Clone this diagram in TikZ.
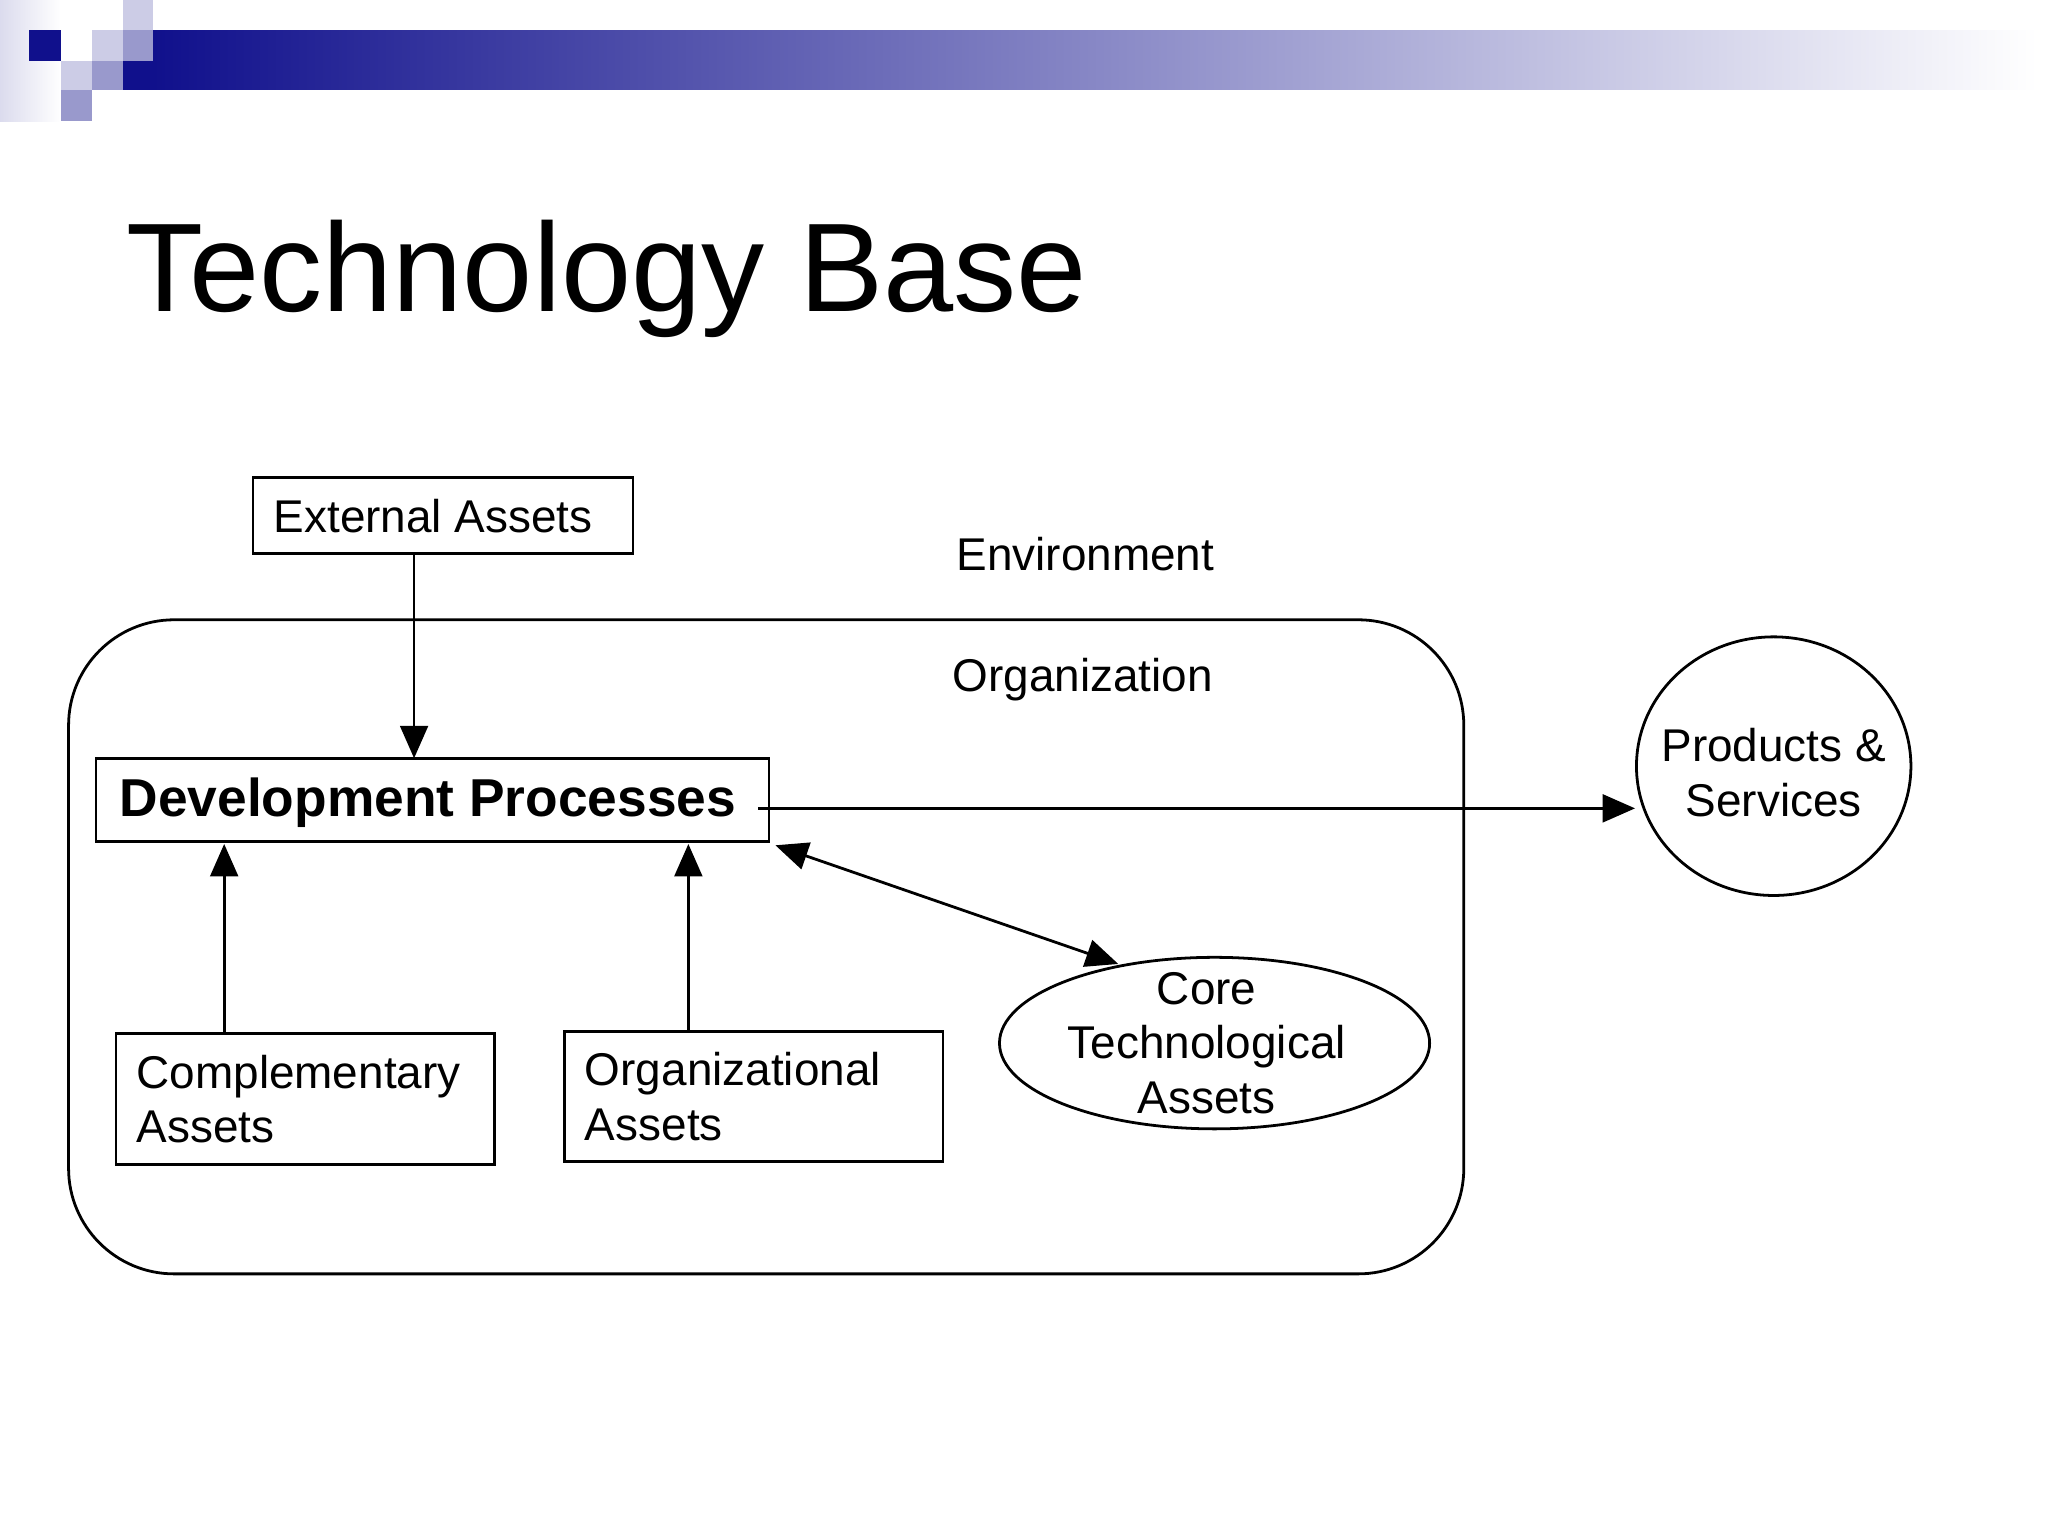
\documentclass[tikz,border=0pt]{standalone}
\usepackage{fontspec}
\setmainfont{Liberation Sans}
\usetikzlibrary{arrows.meta,shapes.geometric}
\definecolor{navy}{RGB}{16,16,140}
\definecolor{lav}{RGB}{204,204,230}
\definecolor{mlav}{RGB}{153,153,204}
\begin{document}
\begin{tikzpicture}[x=0.01cm,y=-0.01cm,
  box/.style={draw,line width=0.6pt,inner sep=0pt},
  lbl/.style={font=\fontsize{9.9pt}{11.8pt}\selectfont,align=left,inner sep=0pt},
  arr/.style={line width=0.6pt,-{Triangle[length=7pt,width=6pt]}}]
\useasboundingbox (0,0) rectangle (1553,1165);
\fill[white] (0,0) rectangle (1553,1165);
% decoration
\shade[left color=lav!70,right color=white] (0,0) rectangle (46,92);
\shade[left color=navy,right color=white] (116,23) rectangle (1545,68);
\fill[navy] (93,46) rectangle (116,68);
\fill[navy] (22,23) rectangle (46,46);
\fill[lav] (93,0) rectangle (116,23);
\fill[lav] (70,23) rectangle (93,46);
\fill[mlav] (93,23) rectangle (116,46);
\fill[lav] (46,46) rectangle (70,68);
\fill[mlav] (70,46) rectangle (93,68);
\fill[mlav] (46,68) rectangle (70,92);
% title
\node[anchor=base west,font=\fontsize{27.2pt}{32pt}\selectfont,inner sep=0pt] (title) at (95,236) {Technology Base};
% org
\draw[line width=0.6pt,rounded corners=0.8cm] (52,470) rectangle (1110,966);
\node[lbl] (env) at (823,420) {Environment};
\node[lbl] (org) at (821,515) {Organization};
\node[box,minimum width=2.88cm,minimum height=0.58cm] (ext) at (336,391) {};
\node[lbl,anchor=west] at ([xshift=0.16cm]ext.west) {External Assets};
\node[box,minimum width=5.10cm,minimum height=0.63cm] (dev) at (328,606.5) {};
\node[anchor=west,inner sep=0pt,font=\bfseries\fontsize{11.5pt}{14pt}\selectfont] (devt) at (90,609) {Development Processes};
\node[box,minimum width=2.87cm,minimum height=0.99cm] (comp) at (231.5,833.5) {};
\node[lbl,anchor=west] at ([xshift=0.16cm]comp.west) {Complementary\\Assets};
\node[box,minimum width=2.87cm,minimum height=0.99cm] (oa) at (571.5,831.5) {};
\node[lbl,anchor=west] at ([xshift=0.16cm]oa.west) {Organizational\\Assets};
\node[draw,line width=0.6pt,ellipse,minimum width=3.26cm,minimum height=1.30cm,inner sep=0pt] (core) at (921,791) {};
\node[lbl,align=center] at (915,791) {Core\\Technological\\Assets};
\node[draw,line width=0.6pt,ellipse,minimum width=2.08cm,minimum height=1.96cm,inner sep=0pt] (ps) at (1345,581) {};
\node[lbl,align=center] at (1345,586) {Products \&\\Services};
% arrows
\draw[arr] (ext.south -| 314,0) -- (314,575);
\coordinate (ds) at (575,613);
\draw[arr] (ds) -- (ps.west |- ds);
\draw[arr] (comp.north -| 170,0) -- (170,640);
\draw[arr] (oa.north -| 522,0) -- (522,640);
\draw[arr,{Triangle[length=7pt,width=6pt]}-{Triangle[length=7pt,width=6pt]}] (588,641) -- (848,731);
\end{tikzpicture}
\end{document}
